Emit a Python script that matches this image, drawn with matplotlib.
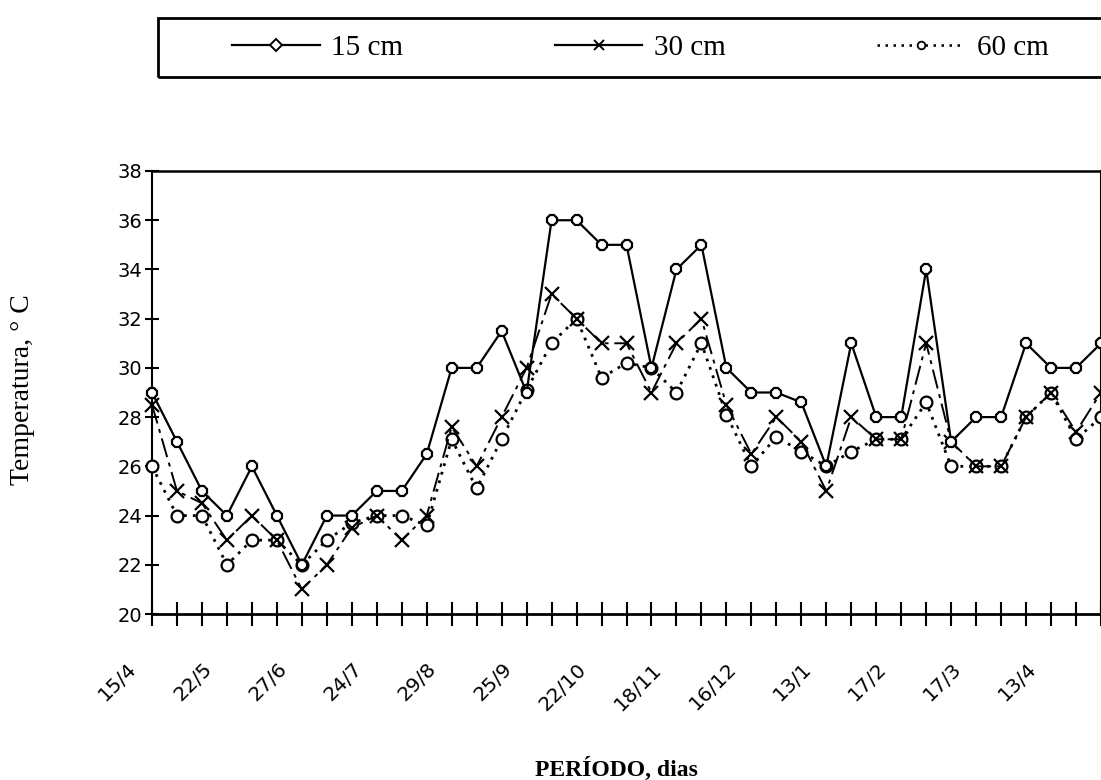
import matplotlib
matplotlib.use('Agg')
import matplotlib.pyplot as plt
from matplotlib.lines import Line2D
from matplotlib.patches import Rectangle
import matplotlib.transforms as mtransforms

# ---- data ----
dates = ['15/4', '22/5', '27/6', '24/7', '29/8', '25/9', '22/10', '18/11',
         '16/12', '13/1', '17/2', '17/3', '13/4']

t15 = [29, 27, 25, 24, 26, 24, 22, 24, 24, 25, 25, 26.5, 30, 30, 31.5, 29,
       36, 36, 35, 35, 30, 34, 35, 30, 29, 29, 28.6, 26, 31, 28, 28, 34,
       27, 28, 28, 31, 30, 30, 31]
t30 = [28.5, 25, 24.5, 23, 24, 23, 21, 22, 23.5, 24, 23, 24, 27.6, 26, 28, 30,
       33, 32, 31, 31, 29, 31, 32, 28.5, 26.5, 28, 27, 25, 28, 27.1, 27.1, 31,
       27, 26, 26, 28, 29, 27.4, 29]
t60 = [26, 24, 24, 22, 23, 23, 22, 23, 23.7, 24, 24, 23.6, 27.1, 25.1, 27.1, 29.1,
       31, 32, 29.6, 30.2, 30, 29, 31, 28.1, 26, 27.2, 26.6, 26, 26.6, 27.1, 27.1, 28.6,
       26, 26, 26, 28, 29, 27.1, 28]
series_names = ['15 cm', '30 cm', '60 cm']

x = list(range(len(t15)))

W, H = 1101, 780
fig = plt.figure(figsize=(W / 100, H / 100), dpi=100)
ax = fig.add_axes([152 / W, 166 / H, 949 / W, 443 / H])

ax.plot(x, t60, color='k', ls=(0, (1, 2.2)), lw=2.0, marker='o', ms=8.5,
        mfc='white', mec='k', mew=1.6, clip_on=False, zorder=3)
ax.plot(x, t30, color='k', ls=(0, (10, 3, 2, 3)), lw=1.4, marker='x', ms=10,
        mew=1.6, clip_on=False, zorder=4)
ax.plot(x, t15, color='k', ls='-', lw=1.6, marker='8', ms=8.5, mfc='white',
        mec='k', mew=1.6, clip_on=False, zorder=5)

ax.set_xlim(0, 949 / 24.99)
ax.set_ylim(20, 38)
ax.set_yticks(range(20, 39, 2))
ax.set_xticks(range(0, 3 * len(dates), 3))
ax.set_xticklabels(dates)
ax.set_xticks(x, minor=True)

ax.tick_params(axis='x', which='both', direction='inout', length=17, width=1.5,
               pad=29, labelsize=14.5, colors='k')
ax.tick_params(axis='y', direction='inout', length=10, width=1.5, pad=2,
               labelsize=14)

off = mtransforms.ScaledTranslation(-0.18, 0, fig.dpi_scale_trans)
for lab in ax.get_xticklabels():
    lab.set_rotation(45)
    lab.set_ha('right')
    lab.set_va('center')
    lab.set_rotation_mode('anchor')
    lab.set_transform(lab.get_transform() + off)

ax.spines['top'].set_linewidth(1.8)
ax.spines['left'].set_linewidth(1.5)
ax.spines['bottom'].set_linewidth(2.0)
ax.spines['right'].set_linewidth(1.5)

ax.set_ylabel('Temperatura, ° C', fontsize=20, family='Liberation Serif')
ax.yaxis.set_label_coords(-0.123, 0.506)
ax.set_xlabel('PERÍODO, dias', fontsize=17, fontweight='bold',
              family='Liberation Serif')
ax.xaxis.set_label_coords(0.489, -0.323)

handles = [
    Line2D([], [], color='k', lw=1.6, marker='D', ms=6, mfc='white', mew=1.4),
    Line2D([], [], color='k', lw=1.6, marker='x', ms=7, mew=1.4),
    Line2D([], [], color='k', lw=1.8, ls=(0, (1, 2.2)), marker='o', ms=5.5,
           mfc='white', mew=1.3),
]
fig.legend(handles, series_names, loc='center left',
           bbox_to_anchor=(232 / W, 1 - 47.5 / H), ncol=3, frameon=False,
           prop={'family': 'Liberation Serif', 'size': 21},
           handlelength=3.0, handletextpad=0.4, columnspacing=5.2,
           borderpad=0, borderaxespad=0)
fig.add_artist(Rectangle((158 / W, 1 - 77 / H), 1.0, 59 / H,
                         transform=fig.transFigure, fill=False, lw=2, ec='k'))

fig.savefig('out.png', dpi=100)
